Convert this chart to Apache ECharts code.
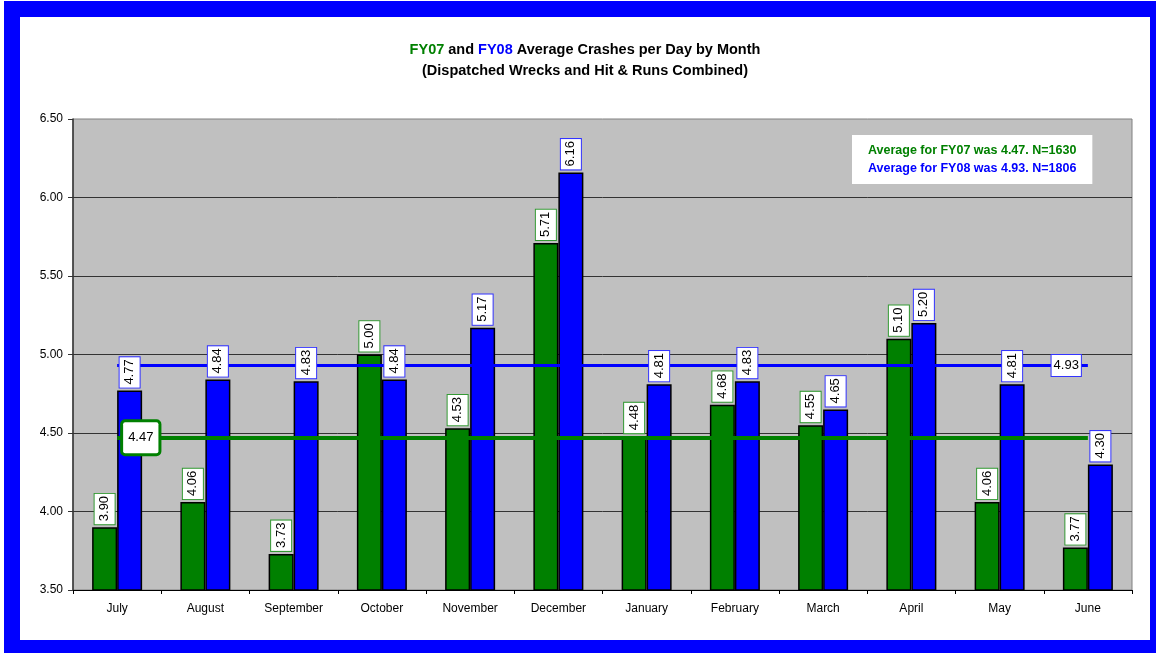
<!DOCTYPE html>
<html>
<head>
<meta charset="utf-8">
<script src="https://cdn.jsdelivr.net/npm/echarts@6/dist/echarts.min.js"></script>
<style>
  body { margin: 0; background: #fff; }
  #frame { position: absolute; left: 4px; top: 1px; width: 1152px; height: 652px; background: #0000ff; }
  #chart { position: absolute; left: 20px; top: 17px; width: 1130px; height: 623px; background: #fff; }
</style>
</head>
<body>
<div id="frame"></div>
<div id="chart"></div>
<script>
// Chart data
var months = ['July', 'August', 'September', 'October', 'November', 'December',
              'January', 'February', 'March', 'April', 'May', 'June'];
var fy07 = [3.90, 4.06, 3.73, 5.00, 4.53, 5.71, 4.48, 4.68, 4.55, 5.10, 4.06, 3.77];
var fy08 = [4.77, 4.84, 4.83, 4.84, 5.17, 6.16, 4.81, 4.83, 4.65, 5.20, 4.81, 4.30];
var avg07 = 4.47, n07 = 1630;
var avg08 = 4.93, n08 = 1806;
var yMin = 3.5, yMax = 6.5, yStep = 0.5;

var GREEN = '#008000';
var BLUE = '#0000ff';
var FONT = 'Arial, "Liberation Sans", sans-serif';

var chartDom = document.getElementById('chart');
var myChart = echarts.init(chartDom);

function fmt(v) {
    return Number(v).toFixed(2);
}

// label boxes drawn on transparent bars sitting on a hidden copy of the x axis,
// so they can stay above the average lines
function labelSeries(name, data, border) {
    return {
        name: name,
        type: 'bar',
        xAxisIndex: 1,
        data: data,
        barWidth: 25,
        barGap: '0%',
        z: 10,
        silent: true,
        itemStyle: { color: 'rgba(0,0,0,0)', borderWidth: 0 },
        label: {
            show: true,
            position: 'top',
            rotate: 90,
            align: 'left',
            verticalAlign: 'middle',
            distance: 3,
            fontFamily: FONT,
            fontSize: 13,
            color: '#000',
            backgroundColor: '#fff',
            borderColor: border,
            borderWidth: 1,
            padding: [4, 2, 3, 3],
            formatter: function (p) { return fmt(p.value); }
        }
    };
}

var option = {
    animation: false,
    title: [{
        left: 565,
        top: 22,
        textAlign: 'center',
        padding: 0,
        text: '{g|FY07} and {b|FY08} Average Crashes per Day by Month\n(Dispatched Wrecks and Hit & Runs Combined)',
        textStyle: {
            fontFamily: FONT,
            fontSize: 14.5,
            fontWeight: 'bold',
            color: '#000',
            lineHeight: 21,
            rich: {
                g: { color: GREEN, fontFamily: FONT, fontSize: 14.5, fontWeight: 'bold', lineHeight: 21 },
                b: { color: BLUE, fontFamily: FONT, fontSize: 14.5, fontWeight: 'bold', lineHeight: 21 }
            }
        }
    }, {
        left: 832,
        top: 118,
        backgroundColor: '#fff',
        padding: [7, 16, 6, 16],
        text: '{g|Average for FY07 was ' + fmt(avg07) + '. N=' + n07 + '}\n' +
              '{b|Average for FY08 was ' + fmt(avg08) + '. N=' + n08 + '}',
        textStyle: {
            lineHeight: 18,
            rich: {
                g: { color: GREEN, fontFamily: FONT, fontSize: 12.5, fontWeight: 'bold', lineHeight: 18 },
                b: { color: BLUE, fontFamily: FONT, fontSize: 12.5, fontWeight: 'bold', lineHeight: 18 }
            }
        }
    }],
    grid: {
        left: 53,
        right: 18,
        top: 102,
        bottom: 50,
        show: true,
        backgroundColor: '#c0c0c0',
        borderColor: '#808080',
        borderWidth: 1
    },
    xAxis: [{
        type: 'category',
        data: months,
        axisLine: { lineStyle: { color: '#000', width: 1 } },
        axisTick: { show: true, length: 4, lineStyle: { color: '#000' } },
        axisLabel: { margin: 13, fontFamily: FONT, fontSize: 12, color: '#000' },
        splitLine: { show: false }
    }, {
        type: 'category',
        data: months,
        show: false
    }],
    yAxis: {
        type: 'value',
        min: yMin,
        max: yMax,
        interval: yStep,
        axisLine: { show: true, lineStyle: { color: '#333', width: 1.5 } },
        axisTick: { show: true, length: 5, lineStyle: { color: '#333' } },
        axisLabel: {
            margin: 10,
            fontFamily: FONT,
            fontSize: 12,
            color: '#000',
            formatter: function (v) { return fmt(v); }
        },
        splitLine: { show: true, showMaxLine: false, lineStyle: { color: '#333', width: 1 } }
    },
    series: [{
        name: 'FY07',
        type: 'bar',
        data: fy07,
        barWidth: 25,
        barGap: '0%',
        z: 2,
        itemStyle: { color: GREEN, borderColor: '#000', borderWidth: 1.5 }
    }, {
        name: 'FY08',
        type: 'bar',
        data: fy08,
        barWidth: 25,
        barGap: '0%',
        z: 2,
        itemStyle: { color: BLUE, borderColor: '#000', borderWidth: 1.5 }
    }, {
        // average lines run from the first to the last month centre
        name: 'Averages',
        type: 'line',
        data: [],
        z: 5,
        markLine: {
            silent: true,
            symbol: 'none',
            z: 5,
            data: [
                [{
                    coord: [months[0], avg07],
                    lineStyle: { color: GREEN, width: 4, type: 'solid' },
                    label: {
                        show: true,
                        position: 'insideStart',
                        distance: [6, 0],
                        formatter: fmt(avg07),
                        fontFamily: FONT,
                        fontSize: 13,
                        color: '#000',
                        backgroundColor: '#fff',
                        borderColor: GREEN,
                        borderWidth: 3,
                        borderRadius: 2,
                        padding: [9, 5]
                    }
                }, { coord: [months[months.length - 1], avg07] }],
                [{
                    coord: [months[0], avg08],
                    lineStyle: { color: BLUE, width: 3, type: 'solid' },
                    label: {
                        show: true,
                        position: 'insideEnd',
                        distance: [7, 0],
                        formatter: fmt(avg08),
                        fontFamily: FONT,
                        fontSize: 13,
                        color: '#000',
                        backgroundColor: '#fff',
                        borderColor: '#3333ff',
                        borderWidth: 1,
                        padding: [4, 2]
                    }
                }, { coord: [months[months.length - 1], avg08] }]
            ]
        }
    },
    labelSeries('FY07 labels', fy07, '#339933'),
    labelSeries('FY08 labels', fy08, '#3333ff')]
};

myChart.setOption(option);
</script>
</body>
</html>
